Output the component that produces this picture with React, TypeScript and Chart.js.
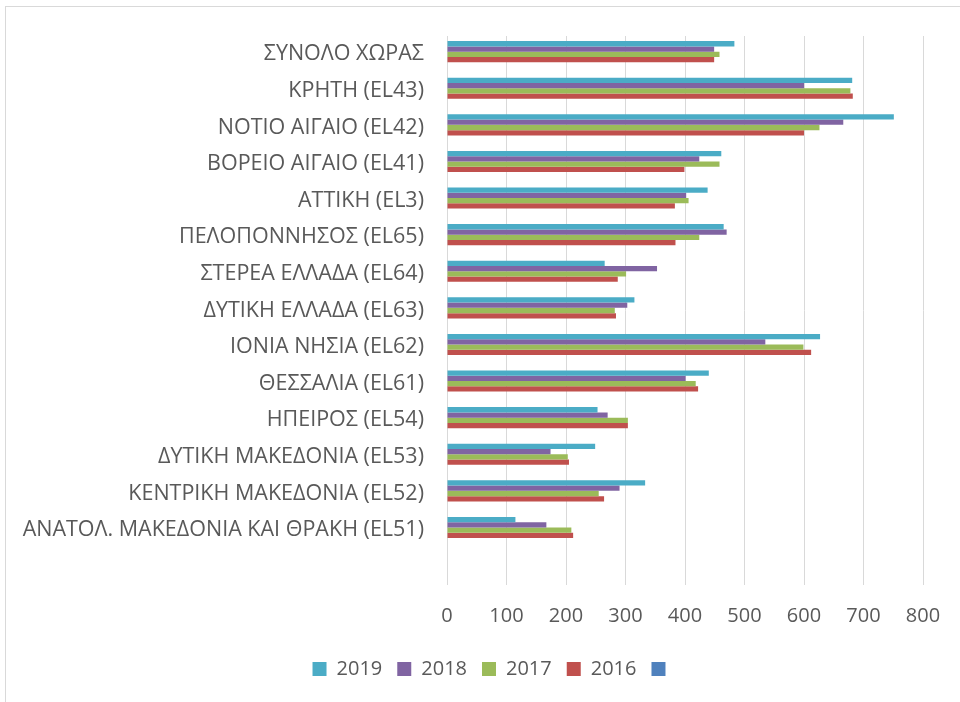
import React, { useEffect, useRef } from "react";
import { Chart, registerables } from "chart.js";

Chart.register(...registerables);

const categories: string[] = [
  "ΣΥΝΟΛΟ ΧΩΡΑΣ",
  "ΚΡΗΤΗ (EL43)",
  "ΝΟΤΙΟ ΑΙΓΑΙΟ (EL42)",
  "ΒΟΡΕΙΟ ΑΙΓΑΙΟ (EL41)",
  "ΑΤΤΙΚΗ (EL3)",
  "ΠΕΛΟΠΟΝΝΗΣΟΣ (EL65)",
  "ΣΤΕΡΕΑ ΕΛΛΑΔΑ (EL64)",
  "ΔΥΤΙΚΗ ΕΛΛΑΔΑ (EL63)",
  "ΙΟΝΙΑ ΝΗΣΙΑ (EL62)",
  "ΘΕΣΣΑΛΙΑ (EL61)",
  "ΗΠΕΙΡΟΣ (EL54)",
  "ΔΥΤΙΚΗ ΜΑΚΕΔΟΝΙΑ (EL53)",
  "ΚΕΝΤΡΙΚΗ ΜΑΚΕΔΟΝΙΑ (EL52)",
  "ΑΝΑΤΟΛ. ΜΑΚΕΔΟΝΙΑ ΚΑΙ ΘΡΑΚΗ (EL51)",
  "",
];

const seriesLabels: string[] = ["2019", "2018", "2017", "2016", ""];
const seriesColors: string[] = ["#4BACC6", "#8064A2", "#9BBB59", "#C0504D", "#4F81BD"];

const values2019: (number | null)[] = [483, 681, 751, 461, 438, 465, 265, 315, 627, 440, 253, 249, 333, 115, null];
const values2018: (number | null)[] = [449, 600, 666, 424, 402, 470, 353, 303, 535, 401, 270, 174, 290, 167, null];
const values2017: (number | null)[] = [458, 678, 626, 458, 406, 424, 301, 282, 599, 418, 304, 203, 255, 209, null];
const values2016: (number | null)[] = [449, 682, 600, 399, 383, 384, 287, 284, 612, 422, 304, 205, 264, 212, null];
const valuesBlank: (number | null)[] = categories.map(() => null);

const xMin = 0;
const xMax = 800;
const xStep = 100;

const FONT = "'Open Sans', 'Noto Sans', sans-serif";

export default function App() {
  const canvasRef = useRef<HTMLCanvasElement | null>(null);

  useEffect(() => {
    if (!canvasRef.current) return;
    const allSeries = [values2019, values2018, values2017, values2016, valuesBlank];
    const chart = new Chart(canvasRef.current, {
      type: "bar",
      data: {
        labels: categories,
        datasets: allSeries.map((d, i) => ({
          label: seriesLabels[i],
          data: d,
          backgroundColor: seriesColors[i],
          borderWidth: 0,
          categoryPercentage: 0.72,
          barPercentage: 1.0,
        })),
      },
      options: {
        indexAxis: "y",
        animation: false,
        responsive: true,
        maintainAspectRatio: false,
        layout: { padding: { top: 36, left: 14, right: -14, bottom: 13 } },
        plugins: {
          title: { display: false },
          tooltip: { enabled: false },
          legend: {
            display: true,
            position: "bottom",
            labels: {
              boxWidth: 14,
              boxHeight: 14,
              padding: 15,
              color: "#595959",
              font: { family: FONT, size: 20 },
            },
          },
        },
        scales: {
          x: {
            type: "linear",
            min: xMin,
            max: xMax,
            ticks: {
              stepSize: xStep,
              color: "#595959",
              font: { family: FONT, size: 20 },
              padding: 19,
            },
            grid: { color: "#d9d9d9", lineWidth: 1, drawTicks: false },
            border: { display: false },
            afterFit: (scale: any) => {
              scale.height = 59;
            },
          },
          y: {
            type: "category",
            ticks: {
              color: "#595959",
              font: { family: FONT, size: 21.5 },
              padding: 23,
              autoSkip: false,
            },
            grid: { display: false, drawTicks: false },
            border: { display: false },
            afterFit: (scale: any) => {
              scale.width = 433;
            },
          },
          yRight: {
            type: "category",
            position: "right",
            labels: categories,
            display: true,
            ticks: { display: false },
            grid: { display: false, drawTicks: false },
            border: { display: false },
            afterFit: (scale: any) => {
              scale.width = 51;
            },
          },
        },
      },
    });
    return () => chart.destroy();
  }, []);

  return (
    <div
      style={{
        position: "absolute",
        left: 0,
        top: 0,
        width: 960,
        height: 702,
        overflow: "hidden",
        background: "#ffffff",
      }}
    >
      <div
        style={{
          position: "absolute",
          left: 5,
          top: 6,
          width: 2000,
          height: 2000,
          borderLeft: "1px solid #d9d9d9",
          borderTop: "1px solid #d9d9d9",
        }}
      />
      <div style={{ position: "absolute", left: 0, top: 0, width: 960, height: 702 }}>
        <canvas ref={canvasRef} />
      </div>
    </div>
  );
}
